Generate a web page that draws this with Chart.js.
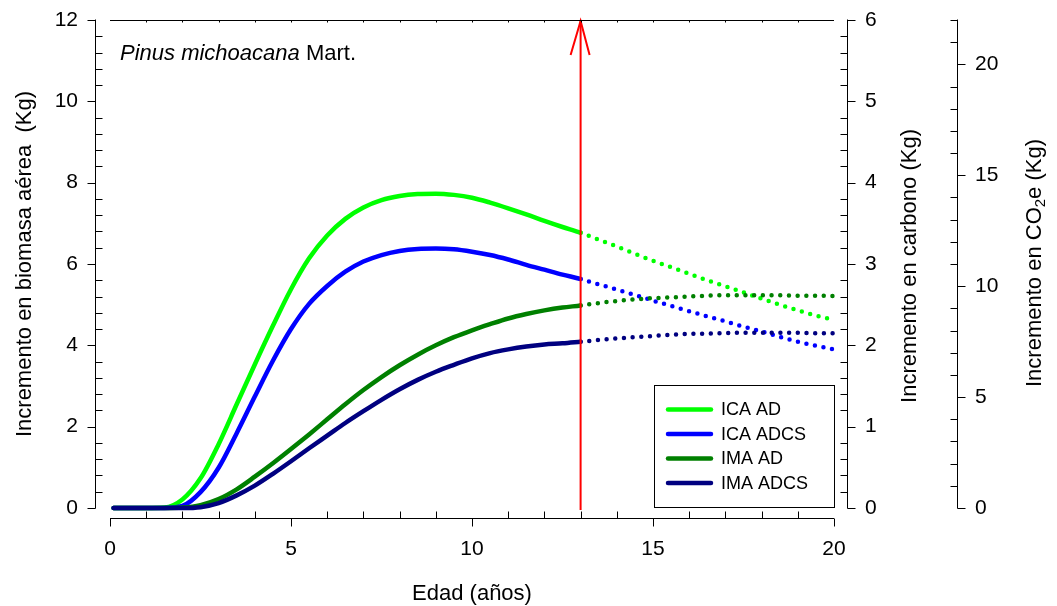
<html>
<head>
    <title>Incremento en biomasa - Pinus michoacana</title>
    <script src="https://cdn.jsdelivr.net/npm/chart.js"></script>
    <style>
        body {
            margin: 0;
            background: white;
        }

        .chart-box {
            width: 1057px;
            height: 606px;
        }
    </style>
</head>

<body>
    <div class="chart-box">
        <canvas id="growthChart"></canvas>
    </div>

    <script>
        // edad (años)
        var ages = [0.1, 0.5, 1, 1.5, 2, 2.5, 3, 3.5, 4, 4.5, 5, 5.5, 6, 6.5, 7, 7.5, 8, 8.5, 9, 9.5, 10,
            10.5, 11, 11.5, 12, 12.5, 13, 13.5, 14, 14.5, 15, 15.5, 16, 16.5, 17, 17.5, 18, 18.5, 19, 19.5, 20];

        // incremento corriente / medio anual, biomasa aérea (Kg)
        var icaAD = [0, 0, 0, 0.01, 0.21, 0.73, 1.57, 2.55, 3.53, 4.48, 5.38, 6.14, 6.7, 7.11, 7.39, 7.57, 7.67, 7.72, 7.73, 7.7, 7.63,
            7.51, 7.37, 7.22, 7.06, 6.91, 6.77, 6.6, 6.43, 6.25, 6.08, 5.92, 5.76, 5.6, 5.45, 5.3, 5.15, 5.0, 4.86, 4.73, 4.63];
        var icaADCS = [0, 0, 0, 0, 0.05, 0.39, 0.99, 1.84, 2.74, 3.62, 4.4, 5.02, 5.46, 5.81, 6.06, 6.22, 6.32, 6.37, 6.38, 6.36, 6.3,
            6.22, 6.11, 5.98, 5.86, 5.74, 5.63, 5.5, 5.37, 5.24, 5.1, 4.97, 4.84, 4.71, 4.59, 4.46, 4.34, 4.21, 4.09, 3.99, 3.9];
        var imaAD = [0, 0, 0, 0, 0.01, 0.07, 0.22, 0.46, 0.77, 1.1, 1.45, 1.81, 2.18, 2.55, 2.9, 3.22, 3.51, 3.77, 4.0, 4.2, 4.37,
            4.52, 4.66, 4.77, 4.86, 4.93, 4.98, 5.04, 5.09, 5.13, 5.16, 5.18, 5.2, 5.22, 5.23, 5.23, 5.23, 5.23, 5.22, 5.22, 5.21];
        var imaADCS = [0, 0, 0, 0, 0, 0.02, 0.12, 0.31, 0.55, 0.84, 1.15, 1.47, 1.78, 2.09, 2.38, 2.66, 2.92, 3.15, 3.35, 3.52, 3.68,
            3.81, 3.9, 3.97, 4.02, 4.05, 4.09, 4.13, 4.17, 4.2, 4.23, 4.26, 4.28, 4.29, 4.3, 4.31, 4.31, 4.31, 4.31, 4.3, 4.3];

        var seriesNames = ["ICA AD", "ICA ADCS", "IMA AD", "IMA ADCS"];
        var seriesColors = ["#00ff00", "#0000ff", "#008000", "#000080"];

        // después de esta edad las curvas van punteadas (proyección) y se marca con la flecha
        var projectionStart = 13;

        var FONT = "'Liberation Sans', Arial, sans-serif";
        Chart.defaults.font.family = FONT;
        Chart.defaults.color = "#000";

        function toPoints(values) {
            return ages.map((a, i) => ({ x: a, y: values[i] }));
        }

        function makeSet(i, values) {
            return {
                label: seriesNames[i],
                data: toPoints(values),
                borderColor: seriesColors[i],
                borderWidth: 4.5,
                borderCapStyle: "round",
                pointRadius: 0,
                cubicInterpolationMode: "monotone",
                clip: false,
                order: 4 - i,
                segment: {
                    borderDash: ctx => ctx.p0.parsed.x >= projectionStart ? [0, 8.7] : undefined
                }
            };
        }

        // sin relleno extra para las etiquetas de los extremos
        function fixWidth(w) {
            return s => { s.width = w; s.paddingTop = 0; s.paddingBottom = 0; };
        }

        // ticks: major hacia fuera, minor hacia dentro
        function vAxis(ctx, scale, px, min, max, major, minor, dir) {
            var top = scale.getPixelForValue(max), bottom = scale.getPixelForValue(min);
            ctx.beginPath();
            ctx.moveTo(px, bottom + 0.5);
            ctx.lineTo(px, top - 0.5);
            for (var v = min; v <= max + 1e-6; v += minor) {
                var py = Math.round(scale.getPixelForValue(v)) + 0.5;
                var isMajor = Math.abs(v / major - Math.round(v / major)) < 1e-6;
                ctx.moveTo(px, py);
                ctx.lineTo(px + (isMajor ? dir * 8 : -dir * 7), py);
            }
            ctx.stroke();
        }

        var axisDecor = {
            id: "axisDecor",
            afterDatasetsDraw(chart) {
                var ctx = chart.ctx, x = chart.scales.x, y = chart.scales.y;
                var ax = x.getPixelForValue(projectionStart);
                var y0 = y.getPixelForValue(0), yTop = y.getPixelForValue(12);
                ctx.save();
                ctx.strokeStyle = "#ff0000";
                ctx.lineWidth = 2;
                ctx.beginPath();
                ctx.moveTo(ax, y0 + 2);
                ctx.lineTo(ax, yTop + 1);
                ctx.stroke();
                ctx.beginPath();
                ctx.moveTo(ax - 10, yTop + 35);
                ctx.lineTo(ax, yTop + 1);
                ctx.lineTo(ax + 9, yTop + 35);
                ctx.stroke();
                ctx.restore();
            },
            afterDraw(chart) {
                var ctx = chart.ctx, a = chart.chartArea, s = chart.scales;
                ctx.save();
                ctx.strokeStyle = "#000";
                ctx.lineWidth = 1;

                // eje x, separado del área
                var xl = s.x.getPixelForValue(0), xr = s.x.getPixelForValue(20);
                var xy = Math.round(a.bottom) + 10.5;
                ctx.beginPath();
                ctx.moveTo(xl, xy);
                ctx.lineTo(xr, xy);
                for (var v = 0; v <= 20; v++) {
                    var px = Math.round(s.x.getPixelForValue(v)) + 0.5;
                    ctx.moveTo(px, xy);
                    ctx.lineTo(px, v % 5 === 0 ? xy + 8 : xy - 7);
                }
                // borde superior
                var ty = Math.round(a.top) + 0.5;
                ctx.moveTo(xl, ty);
                ctx.lineTo(xr, ty);
                for (var v = 1; v < 20; v++) {
                    var px = Math.round(s.x.getPixelForValue(v)) + 0.5;
                    ctx.moveTo(px, ty);
                    ctx.lineTo(px, ty + 2);
                }
                ctx.stroke();

                vAxis(ctx, s.y, Math.round(a.left) - 14.5, 0, 12, 2, 0.4, -1);
                vAxis(ctx, s.y1, Math.round(a.right) + 13.5, 0, 6, 1, 0.2, 1);
                vAxis(ctx, s.y2, Math.round(s.y2.left) + 0.5, 0, 22, 5, 1, 1);

                // títulos de ejes
                ctx.fillStyle = "#000";
                ctx.font = "22px " + FONT;
                ctx.textAlign = "center";
                ctx.textBaseline = "alphabetic";
                ctx.fillText("Edad (años)", (xl + xr) / 2, 600);

                var cy = (a.top + a.bottom) / 2;
                ctx.save();
                ctx.translate(31, cy);
                ctx.rotate(-Math.PI / 2);
                ctx.fillText("Incremento en biomasa aérea  (Kg)", 0, 0);
                ctx.restore();

                ctx.save();
                ctx.translate(916, cy + 2);
                ctx.rotate(-Math.PI / 2);
                ctx.fillText("Incremento en carbono (Kg)", 0, 0);
                ctx.restore();

                // CO2e con subíndice
                var partA = "Incremento en CO", partB = "2", partC = "e (Kg)";
                ctx.save();
                ctx.translate(1041, cy - 1);
                ctx.rotate(-Math.PI / 2);
                ctx.textAlign = "left";
                ctx.font = "22px " + FONT;
                var wA = ctx.measureText(partA).width, wC = ctx.measureText(partC).width;
                ctx.font = "15px " + FONT;
                var wB = ctx.measureText(partB).width;
                var start = -(wA + wB + wC) / 2;
                ctx.font = "22px " + FONT;
                ctx.fillText(partA, start, 0);
                ctx.fillText(partC, start + wA + wB, 0);
                ctx.font = "15px " + FONT;
                ctx.fillText(partB, start + wA, 4);
                ctx.restore();

                // nombre de la especie
                ctx.textAlign = "left";
                ctx.font = "italic 22px " + FONT;
                var sp = "Pinus michoacana";
                ctx.fillText(sp, 120, 59.5);
                var wsp = ctx.measureText(sp).width;
                ctx.font = "22px " + FONT;
                ctx.fillText(" Mart.", 120 + wsp, 59.5);

                // leyenda
                var lx = 654.5, ly = 385.5;
                ctx.strokeRect(lx, ly, 180, 122);
                ctx.font = "18px " + FONT;
                ctx.textBaseline = "middle";
                chart.data.datasets.forEach(function (ds, i) {
                    var rowY = 409.5 + i * 24.5;
                    ctx.strokeStyle = ds.borderColor;
                    ctx.lineWidth = 4.5;
                    ctx.lineCap = "round";
                    ctx.beginPath();
                    ctx.moveTo(668, rowY);
                    ctx.lineTo(711, rowY);
                    ctx.stroke();
                    ctx.fillText(ds.label, 721, rowY + 1);
                });
                ctx.restore();
            }
        };

        var tickFont = { size: 21 };

        new Chart(document.getElementById("growthChart"), {
            type: "line",
            data: {
                datasets: [
                    makeSet(0, icaAD),
                    makeSet(1, icaADCS),
                    makeSet(2, imaAD),
                    makeSet(3, imaADCS)
                ]
            },
            options: {
                responsive: true,
                maintainAspectRatio: false,
                animation: false,
                layout: { padding: { top: 20, left: 0, right: 0, bottom: 0 } },
                plugins: {
                    legend: { display: false },
                    tooltip: { enabled: false }
                },
                scales: {
                    x: {
                        type: "linear",
                        position: "bottom",
                        min: 0,
                        max: 20,
                        ticks: { stepSize: 5, font: tickFont, padding: 29, maxRotation: 0 },
                        grid: { display: false, drawTicks: false },
                        border: { display: false },
                        afterFit: s => { s.height = 98; s.paddingLeft = 0; s.paddingRight = 0; }
                    },
                    y: {
                        position: "left",
                        min: 0,
                        max: 12,
                        ticks: { stepSize: 2, font: tickFont, padding: 32 },
                        grid: { display: false, drawTicks: false },
                        border: { display: false },
                        afterFit: fixWidth(110)
                    },
                    y1: {
                        position: "right",
                        min: 0,
                        max: 6,
                        ticks: { stepSize: 1, font: tickFont, padding: 31 },
                        grid: { display: false, drawTicks: false },
                        border: { display: false },
                        afterFit: fixWidth(123)
                    },
                    y2: {
                        position: "right",
                        min: 0,
                        max: 22,
                        ticks: { stepSize: 5, font: tickFont, padding: 18, includeBounds: false },
                        grid: { display: false, drawTicks: false },
                        border: { display: false },
                        afterFit: fixWidth(100)
                    }
                }
            },
            plugins: [axisDecor]
        });
    </script>
</body>
</html>
